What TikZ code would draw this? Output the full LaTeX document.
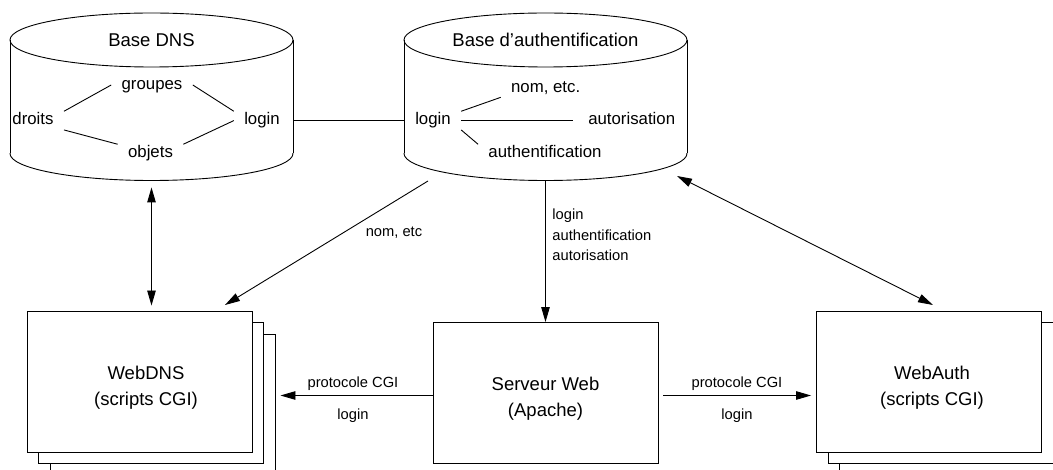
\documentclass[tikz,border=0pt]{standalone}
\usepackage{fontspec}
\setmainfont{Liberation Sans}
\usetikzlibrary{arrows.meta}
\begin{document}
\begin{tikzpicture}[x=1pt,y=-1pt,line width=0.9pt,
  ttl/.style={font=\fontsize{18.5}{26}\selectfont,align=center,inner sep=0pt},
  inner/.style={font=\fontsize{16.8}{20}\selectfont,inner xsep=10pt,inner ysep=1pt,text height=12.3pt,text depth=3.5pt},
  lbl/.style={font=\fontsize{14.7}{20.5}\selectfont,inner sep=0pt},
  page/.style={draw,fill=white,minimum width=225pt,minimum height=141pt,inner sep=0pt},
  area/.style={inner sep=0pt,minimum width=283pt,minimum height=168pt},
  arr/.style={-{Triangle[length=15pt,width=8.5pt]}},
  darr/.style={{Triangle[length=15pt,width=8.5pt]}-{Triangle[length=15pt,width=8.5pt]}}]
\useasboundingbox (0,0) rectangle (1053,470);
\clip (0,0) rectangle (1053,470);

% ---------- cylinders ----------
\draw (151.5,40) ellipse [x radius=141.5, y radius=27];
\draw (10,40) -- (10,153.5) (293,40) -- (293,153.5);
\begin{scope}
  \clip (0,153.5) rectangle (300,200);
  \draw (151.5,153.5) ellipse [x radius=141.5, y radius=27];
\end{scope}
\draw (545.5,40) ellipse [x radius=141.5, y radius=27];
\draw (404,40) -- (404,153.5) (687,40) -- (687,153.5);
\begin{scope}
  \clip (390,153.5) rectangle (700,200);
  \draw (545.5,153.5) ellipse [x radius=141.5, y radius=27];
\end{scope}
\node[area] (dnsdb) at (151.5,97) {};
\node[area] (authdb) at (545.5,97) {};

% ---------- DNS base ----------
\node[ttl] (dnstitle) at (151.5,40) {Base DNS};
\node[inner] (groupes) at (152,85) {groupes};
\node[inner] (droits) at (33,120.6) {droits};
\node[inner] (dlogin) at (262,120.6) {login};
\node[inner] (objets) at (150.5,153.6) {objets};
\draw (groupes.west) -- (droits.north east);
\draw (droits.south east) -- (objets.north west);
\draw (groupes.east) -- (dlogin.north west);
\draw (objets.north east) -- (dlogin.west);

% ---------- auth base ----------
\node[ttl] (authtitle) at (545.5,40) {Base d'authentification};
\node[inner] (alogin) at (433,120.6) {login};
\node[inner] (nom) at (545.7,88) {nom, etc.};
\node[inner] (autor) at (631.7,120.6) {autorisation};
\node[inner] (authent) at (545,153.6) {authentification};
\draw (alogin.north east) -- (nom.south west);
\draw (alogin.east) -- ([xshift=-5pt]autor.west);
\draw (alogin.south east) -- (authent.north west);

\draw (dnsdb.east |- dlogin.east) -- (authdb.west |- alogin.west);

% ---------- boxes ----------
\node[page] (webdnsC) at (162.5,404.5) {};
\node[page] (webdnsB) at (151,393) {};
\node[page] (webdns) at (139.5,381.5) {};
\node[ttl] (webdnstxt) at (146,387.5) {WebDNS\\(scripts CGI)};

\node[page] (serveur) at (545.5,393) {};
\node[ttl] (serveurtxt) at (545.5,399) {Serveur Web\\(Apache)};

\node[page] (webauthC) at (952,404.5) {};
\node[page] (webauthB) at (940.5,393) {};
\node[page] (webauth) at (929,381.5) {};
\node[ttl] (webauthtxt) at (932,387.5) {WebAuth\\(scripts CGI)};

% ---------- connectors ----------
\coordinate (nomstart) at (428,181);
\coordinate (nomend) at (225,305);
\coordinate (authr) at (677,176);
\coordinate (authend) at (933,305);

\draw[darr,shorten <=6pt,shorten >=5pt] (dnsdb.south) -- (dnsdb.south |- webdns.north);
\draw[arr] (nomstart) -- (nomend);
\node[lbl,anchor=base] (nometc) at (394,237) {nom, etc};
\draw[arr] (authdb.south) -- (serveur.north);
\node[lbl,anchor=base west,align=left] (downlbl) at (552,261) {login\\authentification\\autorisation};
\draw[darr] (authr) -- (authend);

\draw[arr,shorten >=5pt] (serveur.west |- 0,395.5) -- (webdnsC.east |- 0,395.5);
\node[lbl,anchor=base] (protoL) at (353,388) {protocole CGI};
\node[lbl,anchor=base] (loginL) at (353,420) {login};
\draw[arr,shorten <=5pt,shorten >=5pt] (serveur.east |- 0,395.5) -- (webauth.west |- 0,395.5);
\node[lbl,anchor=base] (protoR) at (737,388) {protocole CGI};
\node[lbl,anchor=base] (loginR) at (737,420) {login};
\end{tikzpicture}
\end{document}
